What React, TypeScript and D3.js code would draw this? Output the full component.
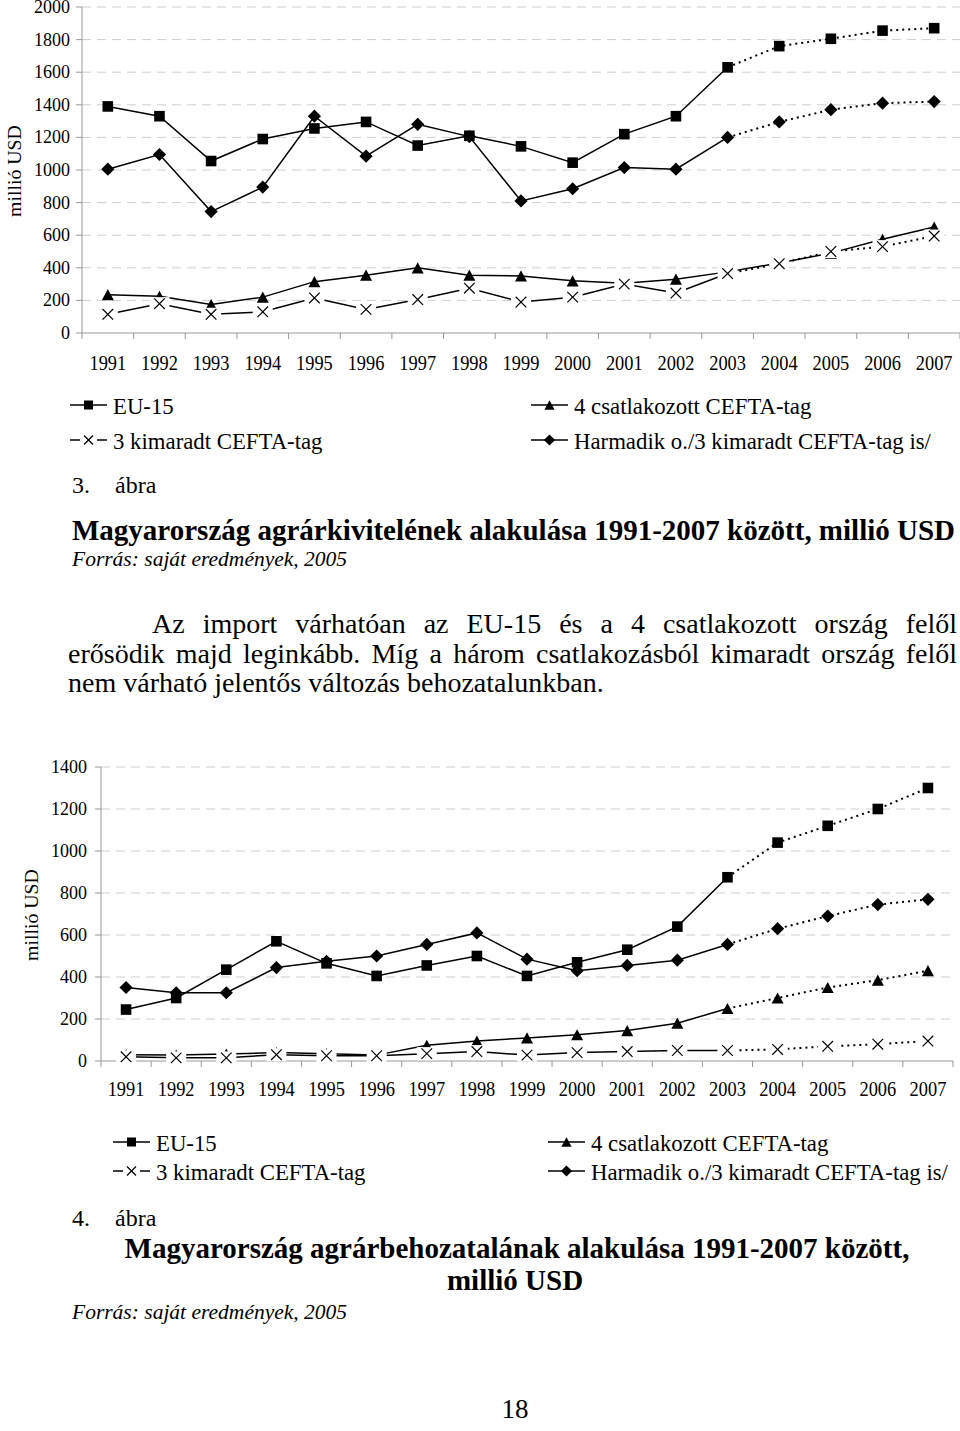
import React from 'react';
import * as d3 from 'd3';

// ---------- DATA ----------
const years = ['1991','1992','1993','1994','1995','1996','1997','1998','1999','2000','2001','2002','2003','2004','2005','2006','2007'];
const projectionStart = '2003';

const seriesNames = ['EU-15', '4 csatlakozott CEFTA-tag', '3 kimaradt CEFTA-tag', 'Harmadik o./3 kimaradt CEFTA-tag is/'];

// Figure 3: export
const exportEU15 = [1390, 1330, 1055, 1190, 1255, 1295, 1150, 1210, 1145, 1045, 1220, 1330, 1630, 1760, 1805, 1855, 1870];
const exportCefta4 = [235, 225, 175, 220, 315, 355, 400, 355, 350, 320, 305, 330, 375, 430, 490, 575, 650];
const exportCefta3 = [115, 180, 115, 130, 215, 145, 205, 275, 190, 220, 300, 245, 365, 425, 500, 530, 595];
const exportThird = [1005, 1095, 745, 895, 1330, 1085, 1280, 1205, 810, 885, 1015, 1005, 1200, 1295, 1370, 1410, 1420];
const exportTicks = [0, 200, 400, 600, 800, 1000, 1200, 1400, 1600, 1800, 2000];

// Figure 4: import
const importEU15 = [245, 300, 435, 570, 465, 405, 455, 500, 405, 470, 530, 640, 875, 1040, 1120, 1200, 1300];
const importCefta4 = [30, 28, 33, 40, 35, 28, 75, 95, 110, 125, 145, 180, 250, 300, 350, 385, 430];
const importCefta3 = [20, 15, 15, 30, 25, 25, 35, 45, 28, 40, 45, 50, 50, 55, 70, 80, 95];
const importThird = [350, 325, 325, 445, 475, 500, 555, 610, 485, 430, 455, 480, 555, 630, 690, 745, 770];
const importTicks = [0, 200, 400, 600, 800, 1000, 1200, 1400];

const yAxisTitle = 'millió USD';
const fig3Label = ['3.', 'ábra'];
const fig4Label = ['4.', 'ábra'];
const fig3Title = 'Magyarország agrárkivitelének alakulása 1991-2007 között, millió USD';
const fig4Title = ['Magyarország agrárbehozatalának alakulása 1991-2007 között,', 'millió USD'];
const sourceText = 'Forrás: saját eredmények, 2005';
const paragraph = [
  'Az import várhatóan az EU-15 és a 4 csatlakozott ország felől',
  'erősödik majd leginkább. Míg a három csatlakozásból kimaradt ország felől',
  'nem várható jelentős változás behozatalunkban.',
];
const pageNumber = '18';

const SERIF = "'Liberation Serif', 'Times New Roman', serif";

type MarkerType = 'square' | 'triangle' | 'x' | 'diamond';
const markerTypes: MarkerType[] = ['square', 'triangle', 'x', 'diamond'];

// ---------- helpers ----------
let ctx: CanvasRenderingContext2D | null = null;
function measure(text: string, font: string) {
  if (!ctx) ctx = document.createElement('canvas').getContext('2d');
  ctx!.font = font;
  return ctx!.measureText(text).width;
}

function Marker({ type, x, y, s = 1 }: { type: MarkerType; x: number; y: number; s?: number }) {
  if (type === 'square') {
    const h = 5.3 * s;
    return <rect x={x - h} y={y - h} width={2 * h} height={2 * h} fill="#000" />;
  }
  if (type === 'diamond') {
    const h = 6.6 * s;
    return <polygon points={`${x},${y - h} ${x + h},${y} ${x},${y + h} ${x - h},${y}`} fill="#000" />;
  }
  if (type === 'triangle') {
    const w = 6 * s, h = 5.6 * s;
    return <polygon points={`${x},${y - h} ${x + w},${y + h} ${x - w},${y + h}`} fill="#000" />;
  }
  const h = 5.3 * s;
  return (
    <g>
      <rect x={x - 10 * s} y={y - 6.5 * s} width={20 * s} height={13 * s} fill="#fff" />
      <line x1={x - h} y1={y - h} x2={x + h} y2={y + h} stroke="#000" strokeWidth={1.2} />
      <line x1={x - h} y1={y + h} x2={x + h} y2={y - h} stroke="#000" strokeWidth={1.2} />
    </g>
  );
}

function SText({ x, y, sx = 1, size, anchor = 'start', children, weight, italic }: any) {
  return (
    <text
      transform={`translate(${x},${y}) scale(${sx},1)`}
      textAnchor={anchor}
      fontSize={size}
      fontFamily={SERIF}
      fontWeight={weight}
      fontStyle={italic ? 'italic' : undefined}
      fill="#000"
    >
      {children}
    </text>
  );
}

function Justified({ text, x0, x1, y, size, weight = 'normal', justify = true }: any) {
  const font = `${weight} ${size}px 'Liberation Serif'`;
  const words = text.split(' ');
  const widths = words.map((w: string) => measure(w, font));
  const total = widths.reduce((a: number, b: number) => a + b, 0);
  const gap = justify && words.length > 1 ? (x1 - x0 - total) / (words.length - 1) : measure(' ', font);
  let cx = x0;
  const xs = widths.map((w: number) => {
    const p = cx;
    cx += w + gap;
    return p;
  });
  return (
    <text fontSize={size} fontFamily={SERIF} fontWeight={weight} fill="#000">
      {words.map((w: string, i: number) => (
        <tspan key={i} x={xs[i]} y={y}>{w}</tspan>
      ))}
    </text>
  );
}

interface ChartProps {
  left: number; right: number; top: number; bottom: number; maxY: number;
  ticks: number[]; data: number[][]; dotted: boolean[];
  tickLabelX: number; titleX: number; titleY: number; yearBaseline: number;
}

function LineChart(p: ChartProps) {
  const x = d3.scaleBand<string>().domain(years).range([p.left, p.right]);
  const y = d3.scaleLinear().domain([0, p.maxY]).range([p.bottom, p.top]);
  const cx = (yr: string) => (x(yr) as number) + x.bandwidth() / 2;
  const split = years.indexOf(projectionStart);
  const line = d3.line<[string, number]>().x(d => cx(d[0])).y(d => y(d[1]));
  const boundaries = years.map(yr => x(yr) as number).concat([p.right]);
  return (
    <g>
      {p.ticks.filter(t => t > 0).map(t => (
        <line key={t} x1={p.left} x2={p.right} y1={y(t)} y2={y(t)} stroke="#cfcfcf" strokeWidth={1} strokeDasharray="9,6" />
      ))}
      <line x1={p.left} x2={p.left} y1={p.top} y2={p.bottom} stroke="#999" strokeWidth={1} />
      <line x1={p.left} x2={p.right} y1={p.bottom} y2={p.bottom} stroke="#999" strokeWidth={1} />
      {p.ticks.map(t => (
        <line key={'yt' + t} x1={p.left - 6} x2={p.left} y1={y(t)} y2={y(t)} stroke="#999" strokeWidth={1} />
      ))}
      {boundaries.map((b, i) => (
        <line key={'xt' + i} x1={b} x2={b} y1={p.bottom} y2={p.bottom + 6} stroke="#999" strokeWidth={1} />
      ))}
      {p.ticks.map(t => (
        <SText key={'yl' + t} x={p.tickLabelX} y={y(t) + 6} size={18} anchor="end">{String(t)}</SText>
      ))}
      {years.map(yr => (
        <SText key={'xl' + yr} x={cx(yr)} y={p.yearBaseline} size={20} sx={0.92} anchor="middle">{yr}</SText>
      ))}
      <text
        transform={`translate(${p.titleX},${p.titleY}) rotate(-90) scale(1.1,1)`}
        textAnchor="middle" fontSize={18} fontFamily={SERIF} fill="#000"
      >
        {yAxisTitle}
      </text>
      {p.data.map((vals, si) => {
        const pts: [string, number][] = years.map((yr, i) => [yr, vals[i]]);
        const solid = p.dotted[si] ? pts.slice(0, split + 1) : pts;
        const dot = p.dotted[si] ? pts.slice(split) : [];
        return (
          <g key={si}>
            <path d={line(solid) || ''} fill="none" stroke="#000" strokeWidth={1.5} />
            {dot.length > 0 && (
              <path d={line(dot) || ''} fill="none" stroke="#000" strokeWidth={2} strokeDasharray="2,4" />
            )}
            {pts.map(([yr, v]) => (
              <Marker key={yr} type={markerTypes[si]} x={cx(yr)} y={y(v)} />
            ))}
          </g>
        );
      })}
    </g>
  );
}

function Legend({ rows, cols, textOffset, symW }: { rows: number[]; cols: number[]; textOffset: number; symW: number }) {
  const placement = [[0, 0], [0, 1], [1, 0], [1, 1]];
  return (
    <g>
      {seriesNames.map((name, i) => {
        const [r, c] = placement[i];
        const sx = cols[c];
        const sy = rows[r];
        const mid = sx + symW / 2;
        return (
          <g key={name}>
            <line x1={sx} x2={sx + symW} y1={sy} y2={sy} stroke="#000" strokeWidth={1.5} />
            <Marker type={markerTypes[i]} x={mid} y={sy} s={0.85} />
            <SText x={sx + symW + textOffset} y={sy + 9} size={24} sx={0.95}>{name}</SText>
          </g>
        );
      })}
    </g>
  );
}

export default function App() {
  return (
    <svg
      width={960}
      height={1431}
      viewBox="0 0 960 1431"
      style={{ position: 'absolute', left: 0, top: 0, display: 'block', background: '#fff' }}
    >
      <rect x={0} y={0} width={960} height={1431} fill="#fff" />
      {/* Figure 3 */}
      <LineChart
        left={82} right={960} top={7} bottom={333} maxY={2000}
        ticks={exportTicks}
        data={[exportEU15, exportCefta4, exportCefta3, exportThird]}
        dotted={[true, false, true, true]}
        tickLabelX={70} titleX={20.5} titleY={171} yearBaseline={370}
      />
      <Legend rows={[405, 440]} cols={[70, 531]} textOffset={6} symW={37} />
      <SText x={72} y={493} size={24}>{fig3Label[0]}</SText>
      <SText x={115} y={493} size={24}>{fig3Label[1]}</SText>
      <Justified text={fig3Title} x0={72} x1={955} y={540} size={29} weight="bold" />
      <SText x={72} y={566} size={21.5} italic>{sourceText}</SText>

      <Justified text={paragraph[0]} x0={152} x1={957} y={633} size={28} />
      <Justified text={paragraph[1]} x0={68} x1={957} y={663} size={28} />
      <Justified text={paragraph[2]} x0={68} x1={957} y={692} size={28} justify={false} />

      {/* Figure 4 */}
      <LineChart
        left={101} right={953} top={767} bottom={1061} maxY={1400}
        ticks={importTicks}
        data={[importEU15, importCefta4, importCefta3, importThird]}
        dotted={[true, true, true, true]}
        tickLabelX={87} titleX={37.5} titleY={915} yearBaseline={1096}
      />
      <Legend rows={[1142, 1171]} cols={[113, 548]} textOffset={6} symW={37} />
      <SText x={72} y={1226} size={24}>{fig4Label[0]}</SText>
      <SText x={115} y={1226} size={24}>{fig4Label[1]}</SText>
      <SText x={517} y={1258} size={29} weight="bold" anchor="middle">{fig4Title[0]}</SText>
      <SText x={515} y={1290} size={29} weight="bold" anchor="middle">{fig4Title[1]}</SText>
      <SText x={72} y={1319} size={21.5} italic>{sourceText}</SText>

      <SText x={515} y={1418} size={27} anchor="middle">{pageNumber}</SText>
    </svg>
  );
}
